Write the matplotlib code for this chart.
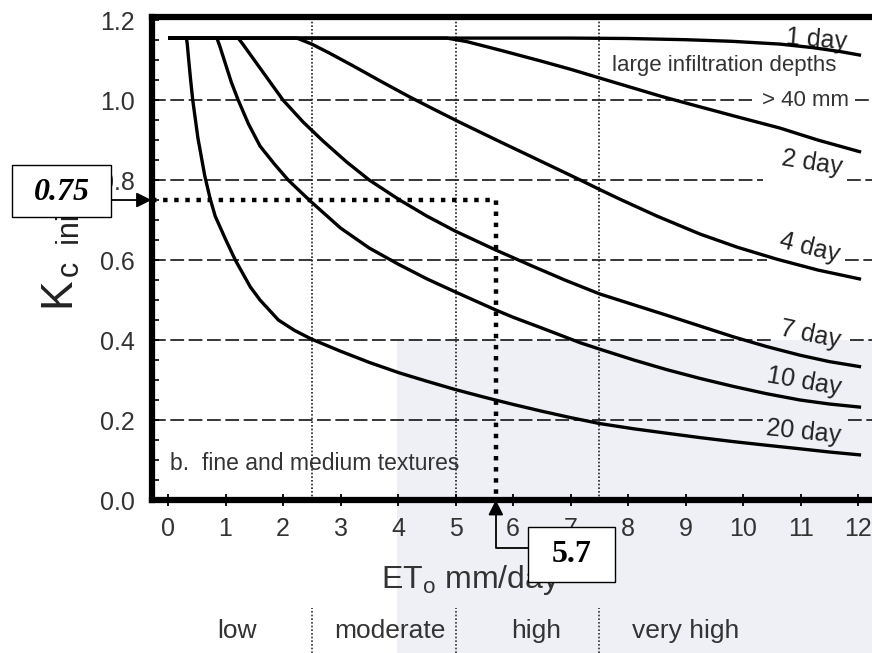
import numpy as np
import matplotlib
matplotlib.use('Agg')
from matplotlib import pyplot as plt
from matplotlib import transforms
from matplotlib.patches import Rectangle
from matplotlib.ticker import MultipleLocator

plt.rcParams['font.family'] = ['Liberation Sans', 'DejaVu Sans']
plt.rcParams['mathtext.fontset'] = 'custom'
plt.rcParams['mathtext.rm'] = 'Liberation Sans'

# Kc ini vs ETo, fine and medium textures, per wetting interval
x_1day = [0, 7.0, 8.0, 9.0, 9.8, 10.64, 11.22, 11.7, 12.05]
y_1day = [1.155, 1.155, 1.154, 1.151, 1.147, 1.14, 1.131, 1.121, 1.112]
x_2day = [0, 4.85, 5.2, 5.77, 6.5, 7.0, 7.51, 8.0, 8.56, 9.2, 9.9, 10.64, 11.3, 12.05]
y_2day = [1.155, 1.155, 1.146, 1.125, 1.097, 1.077, 1.055, 1.034, 1.01, 0.985, 0.958, 0.93, 0.9, 0.87]
x_4day = [0, 2.24, 2.5, 2.8, 3.2, 3.7, 4.2, 4.65, 5.08, 5.77, 6.5, 7.17, 7.51, 7.86, 8.5, 9.25, 9.9, 10.59, 11.3, 12.05]
y_4day = [1.155, 1.155, 1.14, 1.118, 1.087, 1.047, 1.008, 0.975, 0.944, 0.896, 0.846, 0.8, 0.776, 0.752, 0.71, 0.665, 0.632, 0.602, 0.575, 0.552]
x_7day = [0, 1.22, 1.3, 1.5, 1.75, 2.0, 2.35, 2.7, 3.1, 3.5, 4.03, 4.5, 5.0, 5.7, 6.3, 6.9, 7.51, 8.1, 8.67, 9.25, 9.83, 10.4, 10.99, 11.5, 12.05]
y_7day = [1.155, 1.155, 1.14, 1.1, 1.05, 1.0, 0.945, 0.897, 0.846, 0.8, 0.75, 0.71, 0.672, 0.625, 0.587, 0.55, 0.515, 0.488, 0.462, 0.435, 0.408, 0.384, 0.362, 0.346, 0.333]
x_10day = [0, 0.85, 0.9, 1.0, 1.1, 1.22, 1.4, 1.6, 1.85, 2.09, 2.47, 3.0, 3.5, 4.0, 4.5, 5.0, 5.7, 6.0, 6.5, 7.17, 7.51, 8.1, 8.67, 9.25, 9.83, 10.4, 10.99, 11.5, 12.05]
y_10day = [1.155, 1.155, 1.135, 1.09, 1.045, 1.0, 0.94, 0.885, 0.84, 0.8, 0.748, 0.68, 0.63, 0.59, 0.553, 0.52, 0.475, 0.457, 0.43, 0.393, 0.377, 0.35, 0.326, 0.304, 0.284, 0.266, 0.25, 0.24, 0.232]
x_20day = [0, 0.32, 0.335, 0.36, 0.39, 0.43, 0.52, 0.64, 0.73, 0.82, 1.0, 1.17, 1.43, 1.6, 1.92, 2.2, 2.5, 3.0, 3.5, 4.03, 4.5, 5.0, 5.5, 6.0, 6.5, 7.0, 7.51, 8.1, 8.67, 9.25, 9.83, 10.4, 10.99, 11.5, 12.05]
y_20day = [1.155, 1.155, 1.14, 1.10, 1.055, 1.0, 0.905, 0.81, 0.755, 0.71, 0.652, 0.6, 0.533, 0.5, 0.45, 0.424, 0.402, 0.372, 0.344, 0.3175, 0.297, 0.276, 0.257, 0.239, 0.222, 0.206, 0.191, 0.178, 0.167, 0.156, 0.146, 0.137, 0.128, 0.12, 0.1125]

day_labels = ['1 day', '2 day', '4 day', '7 day', '10 day', '20 day']
x_ticks = list(range(13))
y_ticks = [0.0, 0.2, 0.4, 0.6, 0.8, 1.0, 1.2]
grid_levels = [0.2, 0.4, 0.6, 0.8, 1.0]
class_bounds = [0, 2.5, 5.0, 7.5, 10.5]
class_names = ['low', 'moderate', 'high', 'very high']

ET_READ = 5.7
KC_READ = 0.75

W, H = 872, 653
def fx(px):
    return px / W
def fy(py):
    return 1 - py / H

fig = plt.figure(figsize=(W / 100, H / 100), dpi=100)
fig.add_artist(Rectangle((fx(397), 0), 1 - fx(397), fy(340), transform=fig.transFigure,
                         facecolor='#eef0f6', edgecolor='none', zorder=-1))

ax = fig.add_axes([fx(151.5), fy(500), 1 - fx(151.5), (500 - 16.5) / H])
ax.set_facecolor('none')
ax.set_xlim(-0.287, 12.24)
ax.set_ylim(0, 1.209)
x0, x1 = ax.get_xlim()

for s in ['left', 'top', 'bottom']:
    ax.spines[s].set_linewidth(4.5)
ax.spines['right'].set_visible(False)

ax.set_xticks(x_ticks)
ax.set_yticks(y_ticks)
ax.set_yticklabels(['%.1f' % v for v in y_ticks])
ax.yaxis.set_minor_locator(MultipleLocator(0.05))
ax.tick_params(axis='x', direction='inout', length=9, width=1.3, labelsize=18,
               pad=8, labelcolor='#333333')
ax.tick_params(axis='y', which='both', direction='in', length=5, width=1.2,
               labelsize=18, pad=12, labelcolor='#333333')

# dashed levels, broken where the labels sit
gaps = {1.0: (10.15, 11.95), 0.8: (10.35, 11.8), 0.6: (10.41, 11.77),
        0.4: (10.53, 11.86), 0.2: (10.35, 11.83)}
for yv in grid_levels:
    g0, g1 = gaps[yv]
    ax.plot([x0, g0], [yv, yv], color='k', lw=1.1, ls=(0, (9, 3)), zorder=1)
    ax.plot([g1, x1], [yv, yv], color='k', lw=1.1, ls=(0, (9, 3)), zorder=1)
for xv in class_bounds[1:4]:
    ax.axvline(xv, color='#222222', lw=1.2, ls=(0, (1, 1.2)), zorder=1)

curves = [(x_1day, y_1day), (x_2day, y_2day), (x_4day, y_4day),
          (x_7day, y_7day), (x_10day, y_10day), (x_20day, y_20day)]
for xs, ys in curves:
    ax.plot(xs, ys, color='k', lw=2.4, zorder=3, solid_joinstyle='round',
            solid_capstyle='butt', clip_on=False)

# day labels: x, y, rotation
lab_pos = [(11.28, 1.15, -5), (11.19, 0.842, -9), (11.15, 0.632, -14),
           (11.17, 0.4125, -12), (11.05, 0.296, -10), (11.05, 0.171, -6)]
for lab, (lx, ly, rot) in zip(day_labels, lab_pos):
    ax.text(lx, ly, lab, fontsize=18, rotation=rot, ha='center', va='center',
            color='#222222', zorder=2.5, rotation_mode='anchor')

ax.text(7.72, 1.0875, 'large infiltration depths', fontsize=16, ha='left',
        va='center', color='#333333', zorder=2.5)
ax.text(11.08, 1.0, '> 40 mm', fontsize=16, ha='center', va='center',
        color='#333333', zorder=2.5)
ax.text(0.03, 0.0925, 'b.  fine and medium textures', fontsize=16.5,
        ha='left', va='center', color='#333333', zorder=2.5)

# reading line
ax.plot([x0, ET_READ, ET_READ], [KC_READ, KC_READ, 0], color='k',
        lw=3.2, ls=(0, (1, 1.5)), dash_capstyle='butt', zorder=4)

# axis labels
fig.text(fx(58), fy(292), 'K', rotation=90, fontsize=32, ha='center',
         va='center', color='#222222')
fig.text(fx(86), fy(277), 'c  ini', rotation=90, fontsize=22, ha='right',
         va='bottom', color='#222222')
fig.text(fx(471), fy(588), r'ET$_{\rm o}$ mm/day', fontsize=23, ha='center',
         va='baseline', color='#333333')

# ETo classes
tr = transforms.blended_transform_factory(ax.transData, fig.transFigure)
class_centers = [1.2, 3.86, 6.4, 9.0]
for xb in class_bounds[1:4]:
    ax.plot([xb, xb], [0, fy(608)], transform=tr, clip_on=False,
            color='#333333', lw=1.2, ls=(0, (1, 1.2)))
for xc, name in zip(class_centers, class_names):
    ax.text(xc, fy(638), name, transform=tr, fontsize=19, ha='center',
            va='baseline', color='#333333', clip_on=False)

# value boxes and arrows
fig.add_artist(Rectangle((fx(12), fy(217)), 99 / W, 52 / H, transform=fig.transFigure,
                         facecolor='white', edgecolor='k', lw=1.0, zorder=5))
fig.text(fx(61.5), fy(192), '%.2f' % KC_READ, fontsize=23, family='Liberation Serif',
         weight='bold', style='italic', ha='center', va='center', zorder=6)
ax.annotate('', xy=(0, KC_READ), xycoords=('axes fraction', 'data'),
            xytext=(111, H - 200), textcoords='figure pixels',
            arrowprops=dict(arrowstyle='-|>,head_length=0.5,head_width=0.25',
                            mutation_scale=18, color='k', lw=1.3,
                            shrinkA=0, shrinkB=0), annotation_clip=False)

fig.add_artist(Rectangle((fx(528), fy(582)), 87 / W, 55 / H, transform=fig.transFigure,
                         facecolor='white', edgecolor='k', lw=1.0, zorder=5))
fig.text(fx(571.5), fy(555), '%.1f' % ET_READ, fontsize=23, family='Liberation Serif',
         weight='bold', ha='center', va='center', zorder=6)
ax.annotate('', xy=(ET_READ, 0), xycoords='data',
            xytext=(528, H - 548), textcoords='figure pixels',
            arrowprops=dict(arrowstyle='-|>,head_length=0.5,head_width=0.25',
                            mutation_scale=18, color='k', lw=1.3,
                            shrinkA=0, shrinkB=0,
                            connectionstyle='angle,angleA=0,angleB=90,rad=0'),
            annotation_clip=False)

plt.savefig('out.png', dpi=100)
